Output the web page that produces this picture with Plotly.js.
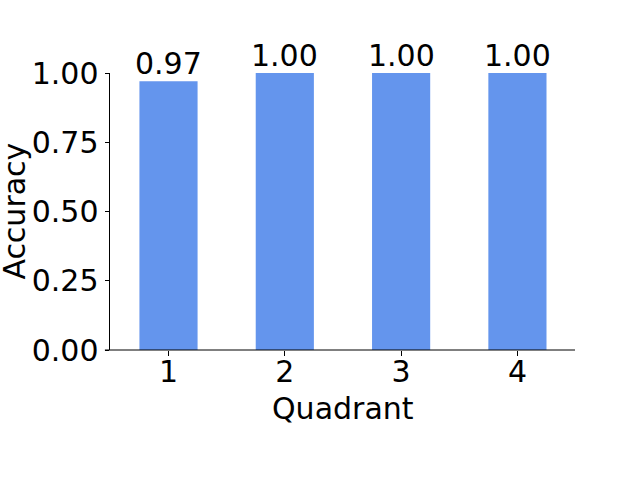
<!DOCTYPE html>
<html>
<head>
<meta charset="utf-8">
<script src="https://cdn.plot.ly/plotly-3.0.1.min.js"></script>
<style>html,body{margin:0;padding:0;background:#fff;}#chart{width:640px;height:480px;}</style>
</head>
<body>
<div id="chart"></div>
<script>
var quadrants = ["1", "2", "3", "4"];
var accuracy = [0.97, 1.00, 1.00, 1.00];
var labels = accuracy.map(function(v){ return v.toFixed(2); });
var xPos = [0, 1, 2, 3];

var font = "DejaVu Sans, sans-serif";
var fs = 30;
var trace = {
  type: "bar",
  x: xPos,
  y: accuracy,
  width: 0.5,
  marker: {color: "#6495ED"},
  cliponaxis: false,
  hoverinfo: "none"
};

var annotations = xPos.map(function(x, i){
  return {
    x: x, y: accuracy[i], xref: "x", yref: "y",
    text: labels[i], showarrow: false,
    xanchor: "center", yanchor: "bottom", yshift: -2,
    font: {family: font, size: fs, color: "#000"}
  };
});
annotations.push({
  xref: "paper", yref: "paper", x: 0.5, y: -0.2094,
  xanchor: "center", yanchor: "middle", showarrow: false,
  text: "Quadrant", font: {family: font, size: fs, color: "#000"}
});
annotations.push({
  xref: "paper", yref: "paper", x: -0.2062, y: 0.5,
  xanchor: "center", yanchor: "middle", showarrow: false, textangle: -90,
  text: "Accuracy", font: {family: font, size: fs, color: "#000"}
});

var layout = {
  width: 640, height: 480,
  margin: {l: 110, r: 65, t: 73, b: 130, pad: 0},
  paper_bgcolor: "#fff", plot_bgcolor: "#fff",
  showlegend: false,
  font: {family: font, size: fs, color: "#000"},
  xaxis: {
    range: [-0.503, 3.495],
    tickvals: xPos,
    ticktext: quadrants,
    ticks: "outside", ticklen: 4.5, tickwidth: 1, tickcolor: "#000",
    ticklabelstandoff: -10,
    showgrid: false, zeroline: false, showline: false,
    tickfont: {family: font, size: fs, color: "#000"}
  },
  yaxis: {
    range: [0, 1],
    tickvals: [0, 0.25, 0.5, 0.75, 1.0],
    ticktext: ["0.00", "0.25", "0.50", "0.75", "1.00"],
    ticks: "outside", ticklen: 4.5, tickwidth: 1, tickcolor: "#000",
    showgrid: false, zeroline: false,
    showline: true, linecolor: "#000", linewidth: 1,
    tickfont: {family: font, size: fs, color: "#000"}
  },
  annotations: annotations,
  shapes: [{
    type: "line", xref: "paper", yref: "paper",
    x0: -0.011, x1: 1, y0: 0, y1: 0,
    line: {color: "#000", width: 1}
  }]
};

Plotly.newPlot("chart", [trace], layout, {staticPlot: true, displayModeBar: false});
</script>
</body>
</html>
